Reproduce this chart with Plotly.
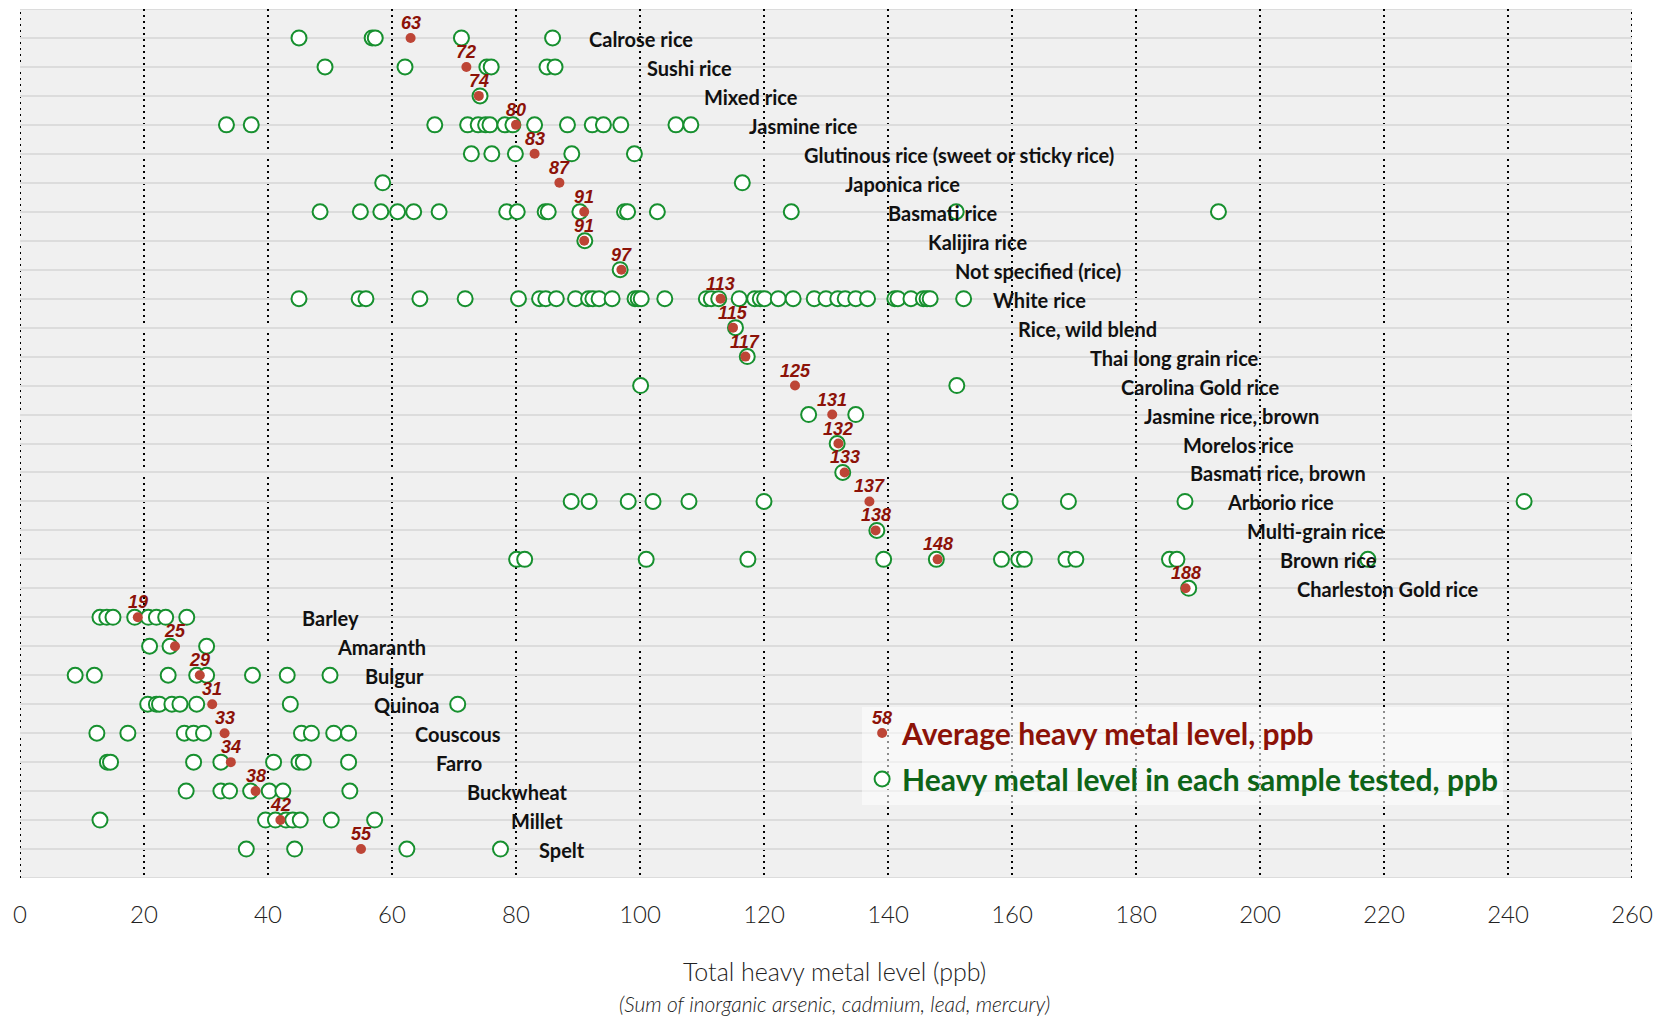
import plotly.graph_objects as go

# ---------------- data ----------------
categories = [
    "Calrose rice", "Sushi rice", "Mixed rice", "Jasmine rice",
    "Glutinous rice (sweet or sticky rice)", "Japonica rice", "Basmati rice",
    "Kalijira rice", "Not specified (rice)", "White rice", "Rice, wild blend",
    "Thai long grain rice", "Carolina Gold rice", "Jasmine rice, brown",
    "Morelos rice", "Basmati rice, brown", "Arborio rice", "Multi-grain rice",
    "Brown rice", "Charleston Gold rice",
    "Barley", "Amaranth", "Bulgur", "Quinoa", "Couscous", "Farro",
    "Buckwheat", "Millet", "Spelt",
]

averages = [63, 72, 74, 80, 83, 87, 91, 91, 97, 113, 115, 117, 125, 131, 132,
            133, 137, 138, 148, 188, 19, 25, 29, 31, 33, 34, 38, 42, 55]

calrose = [45, 56.8, 57.3, 71.2, 85.9]
sushi = [49.2, 62.1, 75.3, 76, 85, 86.3]
mixed = [74.2]
jasmine = [33.3, 37.3, 66.9, 72.2, 73.9, 75.1, 75.8, 78.2, 79.5, 83, 88.3,
           92.3, 94.1, 96.9, 105.8, 108.2]
glutinous = [72.8, 76.1, 79.9, 89, 99.1]
japonica = [58.5, 116.5]
basmati = [48.4, 54.9, 58.2, 60.9, 63.5, 67.6, 78.5, 80.2, 84.7, 85.2, 90.3,
           97.5, 98, 102.8, 124.4, 151, 193.3]
kalijira = [91.1]
not_specified = [96.8]
white = [45, 54.7, 55.8, 64.5, 71.8, 80.4, 83.8, 84.8, 86.5, 89.6, 91.7, 92.4,
         93.4, 95.5, 99.2, 99.7, 100.2, 104, 110.7, 111.5, 112.7, 116, 118.5,
         119.4, 120.1, 122.3, 124.7, 128.1, 130, 131.9, 133.1, 134.8, 136.7,
         141.1, 141.6, 143.7, 145.7, 146.3, 146.8, 152.2]
wild_blend = [115.4]
thai_long = [117.3]
carolina_gold = [100.1, 151.1]
jasmine_brown = [127.2, 134.8]
morelos = [131.8]
basmati_brown = [132.7]
arborio = [88.9, 91.8, 98.1, 102.1, 107.9, 120, 159.7, 169.1, 187.9, 242.6]
multi_grain = [138.2]
brown = [80.1, 81.4, 101, 117.4, 139.3, 147.8, 158.3, 161.1, 162, 168.7,
         170.3, 185.4, 186.6, 217.4]
charleston_gold = [188.5]
barley = [12.9, 14, 15, 18.5, 20.7, 22, 23.5, 26.9]
amaranth = [20.9, 24.2, 30.1]
bulgur = [8.9, 12, 23.9, 28.5, 30.1, 37.5, 43.1, 50]
quinoa = [20.6, 22, 22.5, 24.5, 25.8, 28.5, 43.6, 70.6]
couscous = [12.4, 17.4, 26.5, 28, 29.6, 45.4, 47, 50.6, 53]
farro = [14.1, 14.6, 28, 32.4, 40.9, 45, 45.7, 53]
buckwheat = [26.8, 32.4, 33.8, 37.2, 40.2, 42.4, 53.2]
millet = [12.9, 39.6, 41.2, 42.9, 44, 45.2, 50.2, 57.2]
spelt = [36.5, 44.3, 62.4, 77.5]

samples = [calrose, sushi, mixed, jasmine, glutinous, japonica, basmati,
           kalijira, not_specified, white, wild_blend, thai_long, carolina_gold,
           jasmine_brown, morelos, basmati_brown, arborio, multi_grain, brown,
           charleston_gold, barley, amaranth, bulgur, quinoa, couscous, farro,
           buckwheat, millet, spelt]

x_ticks = list(range(0, 261, 20))
legend_sample_value = 58

# label anchor positions (x, in axis units) for the category names
label_x = [91.5, 100.8, 110, 117.2, 126.2, 132.8, 139.7, 146.1, 150.5, 156.6,
           160.6, 172.3, 177.2, 180.9, 187.2, 188.4, 194.3, 197.5, 202.9, 205.6,
           45.2, 50.8, 55.3, 56.8, 63.4, 66.7, 71.8, 78.8, 83.4]

# ---------------- styles ----------------
GREEN = "#17902f"
RED_DOT = "#bd4536"
RED_TXT = "#8c1208"
GREEN_TXT = "#0e6418"
LABEL_FONT = "Lato"
NUM_FONT = dict(family="Liberation Sans", size=18, color=RED_TXT,
                weight="bold", style="italic")

sx, sy = [], []
for cat, vals in zip(categories, samples):
    sx.extend(vals)
    sy.extend([cat] * len(vals))

fig = go.Figure()

fig.add_trace(go.Scatter(
    x=sx, y=sy, mode="markers",
    name="<span style='color:%s'><b>Heavy metal level in each sample tested, ppb</b></span>" % GREEN_TXT,
    marker=dict(symbol="circle", size=15, color="white",
                line=dict(color=GREEN, width=2)),
    legendrank=2, legendgroup="s", hoverinfo="x+y",
))

fig.add_trace(go.Scatter(
    x=averages, y=categories, mode="markers",
    name="<span style='color:%s'><b>Average heavy metal level, ppb</b></span>" % RED_TXT,
    marker=dict(symbol="circle", size=10, color=RED_DOT, line=dict(width=0)),
    legendrank=1, legendgroup="a", hoverinfo="x+y",
))

annotations = []
for cat, avg in zip(categories, averages):
    annotations.append(dict(
        x=avg, y=cat, xref="x", yref="y", text=str(avg), showarrow=False,
        xanchor="center", yanchor="middle", yshift=15, font=NUM_FONT,
    ))

for cat, lx in zip(categories, label_x):
    annotations.append(dict(
        x=lx, y=cat, xref="x", yref="y", text=cat, showarrow=False,
        xanchor="left", yanchor="middle", yshift=-1,
        font=dict(family=LABEL_FONT, size=20, color="#111111", weight="bold"),
    ))

# legend sample-value label above the legend's red dot
annotations.append(dict(
    x=0.5349, y=0.184, xref="paper", yref="paper",
    text=str(legend_sample_value), showarrow=False,
    xanchor="center", yanchor="middle", font=NUM_FONT,
))

# axis title and subtitle
annotations.append(dict(
    x=0.5, y=0, xref="paper", yref="paper", yshift=-93, xshift=8,
    text="Total heavy metal level (ppb)", showarrow=False,
    xanchor="center", yanchor="middle",
    font=dict(family="Lato", size=25, color="#222222", weight=300),
))
annotations.append(dict(
    x=0.5, y=0, xref="paper", yref="paper", yshift=-125, xshift=8,
    text="(Sum of inorganic arsenic, cadmium, lead, mercury)", showarrow=False,
    xanchor="center", yanchor="middle",
    font=dict(family="Lato", size=21, color="#222222", weight=300,
              style="italic"),
))

fig.update_layout(
    width=1663, height=1017,
    margin=dict(l=20, r=31, t=9, b=139),
    paper_bgcolor="white",
    plot_bgcolor="#f0f0f0",
    showlegend=True,
    legend=dict(
        x=0.5224, y=0.1968, xanchor="left", yanchor="top",
        bgcolor="rgba(255,255,255,0.55)",
        borderwidth=0,
        font=dict(family=LABEL_FONT, size=30, color=RED_TXT),
        tracegroupgap=4,
        itemsizing="trace",
    ),
    annotations=annotations,
    font=dict(family="Lato"),
)

fig.update_xaxes(
    range=[0, 260],
    tickmode="array", tickvals=x_ticks, ticktext=[str(t) for t in x_ticks],
    showgrid=True, gridcolor="black", gridwidth=2, griddash="2px,4px",
    zeroline=False, showline=False,
    tickfont=dict(family="Lato", size=24, color="#222222", weight=300),
    ticks="", ticklabelstandoff=20,
)
fig.update_yaxes(
    type="category", categoryorder="array", categoryarray=categories,
    range=[len(categories), -1],
    showgrid=True, gridcolor="#dcdcdc", gridwidth=2,
    showticklabels=False, ticks="", zeroline=False,
    showline=False,
)

# plot-frame lines: grey top/bottom, dotted left/right like the grid
fig.add_hline(y=-1, line=dict(color="#dcdcdc", width=2), layer="below")
fig.add_hline(y=len(categories), line=dict(color="#dcdcdc", width=2), layer="below")
fig.add_vline(x=x_ticks[0], line=dict(color="black", width=2, dash="2px,4px"), layer="below")
fig.add_vline(x=x_ticks[-1], line=dict(color="black", width=2, dash="2px,4px"), layer="below")

fig.write_html("out.html", include_plotlyjs=True,
               config={"displayModeBar": False},
               post_script="document.body.style.margin='0';")
